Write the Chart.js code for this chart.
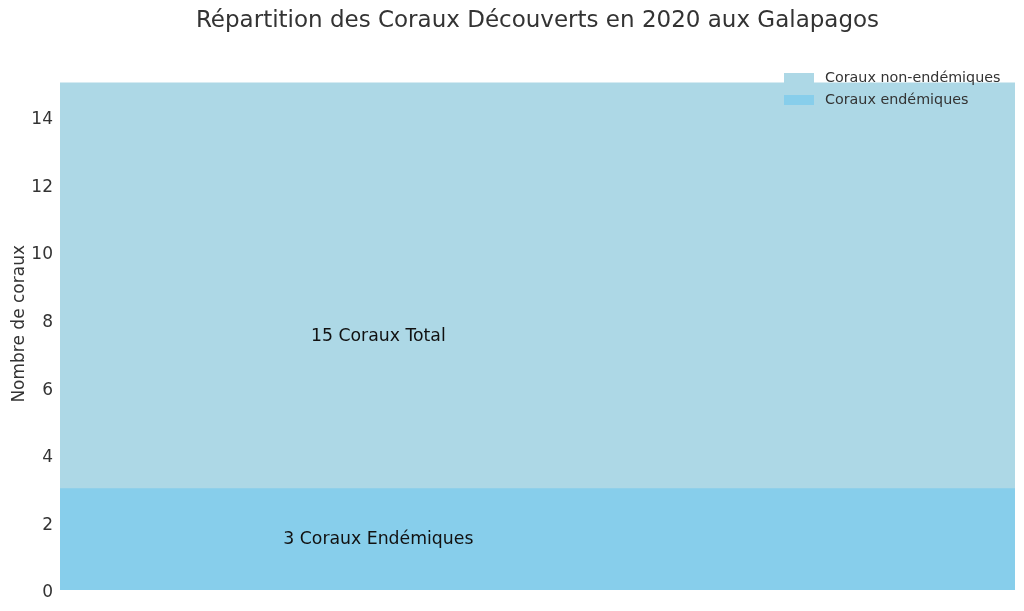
<!DOCTYPE html>
<html>
<head>
<meta charset="utf-8">
<script src="https://cdn.jsdelivr.net/npm/chart.js@4"></script>
<style>
  html, body { margin: 0; padding: 0; background: #fff; }
  #wrap { width: 1024px; height: 611px; }
</style>
</head>
<body>
<div id="wrap"><canvas id="coraux"></canvas></div>
<script>
// données
const categories = ['2020'];
const totalCoraux = [15];
const endemiques = [3];
const nonEndemiques = totalCoraux.map((t, i) => t - endemiques[i]);
const seriesNames = ['Coraux endémiques', 'Coraux non-endémiques'];
const barLabels = ['3 Coraux Endémiques', '15 Coraux Total'];
const yTicks = [0, 2, 4, 6, 8, 10, 12, 14];

const FONT = "'DejaVu Sans', sans-serif";

// titre, annotations et légende dessinés à la main
const decorations = {
    id: 'decorations',
    afterDatasetsDraw(chart) {
        const ctx = chart.ctx;
        const area = chart.chartArea;
        const y = chart.scales.y;
        ctx.save();

        // annotations au tiers de la largeur
        ctx.fillStyle = '#111';
        ctx.font = '17.3px ' + FONT;
        ctx.textAlign = 'center';
        ctx.textBaseline = 'middle';
        const tx = area.left + (area.right - area.left) / 3;
        ctx.fillText(barLabels[1], tx, y.getPixelForValue(totalCoraux[0] / 2));
        ctx.fillText(barLabels[0], tx, y.getPixelForValue(endemiques[0] / 2));

        // titre
        ctx.fillStyle = '#333';
        ctx.font = '23px ' + FONT;
        ctx.fillText('Répartition des Coraux Découverts en 2020 aux Galapagos', (area.left + area.right) / 2, 21);

        // légende (ordre inversé), en haut à droite du cadre
        ctx.font = '14.3px ' + FONT;
        ctx.textAlign = 'left';
        const items = chart.data.datasets.slice().reverse();
        items.forEach((ds, i) => {
            const ly = 78 + i * 22;
            ctx.fillStyle = ds.backgroundColor;
            ctx.fillRect(784, ly - 5, 30, 10);
            ctx.fillStyle = '#333';
            ctx.fillText(ds.label, 825, ly);
        });
        ctx.restore();
    }
};

new Chart(document.getElementById('coraux'), {
    type: 'bar',
    data: {
        labels: categories,
        datasets: [
            {
                label: seriesNames[0],
                data: endemiques,
                backgroundColor: '#87CEEB',
                categoryPercentage: 1,
                barPercentage: 1
            },
            {
                label: seriesNames[1],
                data: nonEndemiques,
                backgroundColor: '#ADD8E6',
                categoryPercentage: 1,
                barPercentage: 1
            }
        ]
    },
    options: {
        responsive: true,
        maintainAspectRatio: false,
        animation: false,
        layout: { padding: { top: 57.6, bottom: 21, right: 9, left: 9 } },
        plugins: {
            legend: { display: false },
            title: { display: false },
            tooltip: { enabled: false }
        },
        scales: {
            x: {
                stacked: true,
                display: false
            },
            y: {
                stacked: true,
                min: 0,
                max: 15.75,
                afterBuildTicks: s => { s.ticks = yTicks.map(v => ({ value: v })); },
                afterFit: s => { s.width = 51; },
                grid: { display: false, drawTicks: false },
                border: { display: false },
                ticks: {
                    color: '#333',
                    font: { family: FONT, size: 17 },
                    padding: 7,
                    labelOffset: 3
                },
                title: {
                    display: true,
                    text: 'Nombre de coraux',
                    color: '#333',
                    font: { family: FONT, size: 17 },
                    padding: { top: 0, bottom: 0 }
                }
            }
        }
    },
    plugins: [decorations]
});
</script>
</body>
</html>
